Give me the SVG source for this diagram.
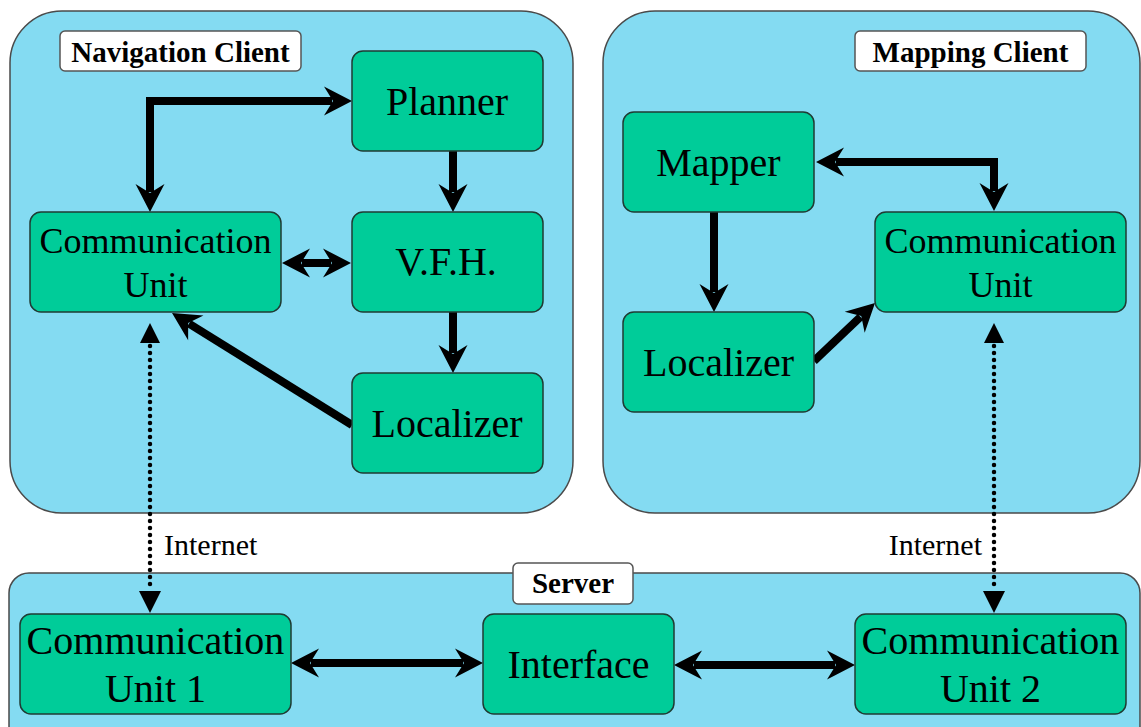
<svg xmlns="http://www.w3.org/2000/svg" width="1141" height="727" viewBox="0 0 1141 727">
<style>
.panel{fill:#84dbf2;stroke:#4a4a4a;stroke-width:1.5}
.lbl rect{fill:#fff;stroke:#555;stroke-width:1.5}
.lbl text{font-weight:bold;font-size:29px;fill:#000;text-anchor:middle}
.node rect{fill:#00cc99;stroke:#1f3b33;stroke-width:1.5}
.node text{font-size:40px;fill:#000;text-anchor:middle}
.node text.s{font-size:36px}
.conn{fill:none;stroke:#000;stroke-width:8}
.dot{fill:none;stroke:#000;stroke-width:4.5;stroke-linecap:round;stroke-dasharray:0 7}
.tri{fill:#000}
.net{font-size:30px;fill:#000}
</style>
<defs>
<marker id="ah" markerUnits="userSpaceOnUse" markerWidth="60" markerHeight="60" viewBox="-40 -30 60 60" refX="-20" refY="0" orient="auto-start-reverse" overflow="visible">
<path d="M0,0 L-28,-14.5 L-19,0 L-28,14.5 Z" fill="#000"/>
</marker>
</defs>
<rect width="1141" height="727" fill="#fff"/>
<g font-family="Liberation Serif, Times New Roman, DejaVu Serif, serif">
<g id="navigation-client">
<rect class="panel" x="10" y="11" width="563" height="502" rx="52" ry="52"/>
<g class="lbl"><rect x="60" y="31" width="241" height="40" rx="5"/><text x="180.5" y="62">Navigation Client</text></g>
</g>
<g id="mapping-client">
<rect class="panel" x="603" y="11" width="537" height="502" rx="52" ry="52"/>
<g class="lbl"><rect x="855" y="31" width="231" height="40" rx="5"/><text x="970.5" y="62">Mapping Client</text></g>
</g>
<g id="server">
<rect class="panel" x="9" y="573" width="1131" height="180" rx="20" ry="20"/>
<g class="lbl"><rect x="513" y="563" width="120" height="41" rx="5"/><text x="573" y="593">Server</text></g>
</g>

<g id="connectors">
<path class="conn" d="M150,192 L150,101 L332,101" marker-start="url(#ah)" marker-end="url(#ah)"/>
<path class="conn" d="M453,151 L453,192" marker-end="url(#ah)"/>
<path class="conn" d="M453,312 L453,353" marker-end="url(#ah)"/>
<path class="conn" d="M302,263 L331,263" marker-start="url(#ah)" marker-end="url(#ah)"/>
<path class="conn" d="M352,425 L189,323.6" marker-end="url(#ah)"/>
<path class="conn" d="M836,162 L994,162 L994,191" marker-start="url(#ah)" marker-end="url(#ah)"/>
<path class="conn" d="M714,212 L714,292" marker-end="url(#ah)"/>
<path class="conn" d="M814,361 L860.5,316.8" marker-end="url(#ah)"/>
<path class="conn" d="M311,663 L463,663" marker-start="url(#ah)" marker-end="url(#ah)"/>
<path class="conn" d="M694,665 L835,665" marker-start="url(#ah)" marker-end="url(#ah)"/>
<path class="dot" d="M150,346 L150,590"/>
<path class="tri" d="M150,323 L140,343 L160,343 Z"/>
<path class="tri" d="M150,613 L139,591 L161,591 Z"/>
<path class="dot" d="M994,346 L994,590"/>
<path class="tri" d="M994,323 L984,343 L1004,343 Z"/>
<path class="tri" d="M994,613 L983,591 L1005,591 Z"/>
<text class="net" x="164" y="555">Internet</text>
<text class="net" x="982" y="555" text-anchor="end">Internet</text>
</g>

<g id="nav-comm-unit" class="node"><rect x="30" y="212" width="251" height="100" rx="11"/><text class="s" x="155.5" y="253">Communication</text><text class="s" x="155.5" y="297">Unit</text></g>
<g id="planner" class="node"><rect x="352" y="51" width="191" height="100" rx="11"/><text x="447" y="115">Planner</text></g>
<g id="vfh" class="node"><rect x="352" y="212" width="191" height="100" rx="11"/><text x="446" y="275">V.F.H.</text></g>
<g id="nav-localizer" class="node"><rect x="352" y="373" width="191" height="100" rx="11"/><text x="447" y="437">Localizer</text></g>

<g id="mapper" class="node"><rect x="623" y="112" width="191" height="100" rx="11"/><text x="718.5" y="176">Mapper</text></g>
<g id="map-localizer" class="node"><rect x="623" y="312" width="191" height="100" rx="11"/><text x="718.5" y="376">Localizer</text></g>
<g id="map-comm-unit" class="node"><rect x="875" y="212" width="251" height="100" rx="11"/><text class="s" x="1000.5" y="253">Communication</text><text class="s" x="1000.5" y="297">Unit</text></g>

<g id="comm-unit-1" class="node"><rect x="20" y="614" width="271" height="100" rx="11"/><text x="155.5" y="654">Communication</text><text x="155.5" y="702">Unit 1</text></g>
<g id="interface" class="node"><rect x="483" y="614" width="191" height="100" rx="11"/><text x="578.5" y="678">Interface</text></g>
<g id="comm-unit-2" class="node"><rect x="855" y="614" width="271" height="100" rx="11"/><text x="990.5" y="654">Communication</text><text x="990.5" y="702">Unit 2</text></g>
</g>
</svg>
